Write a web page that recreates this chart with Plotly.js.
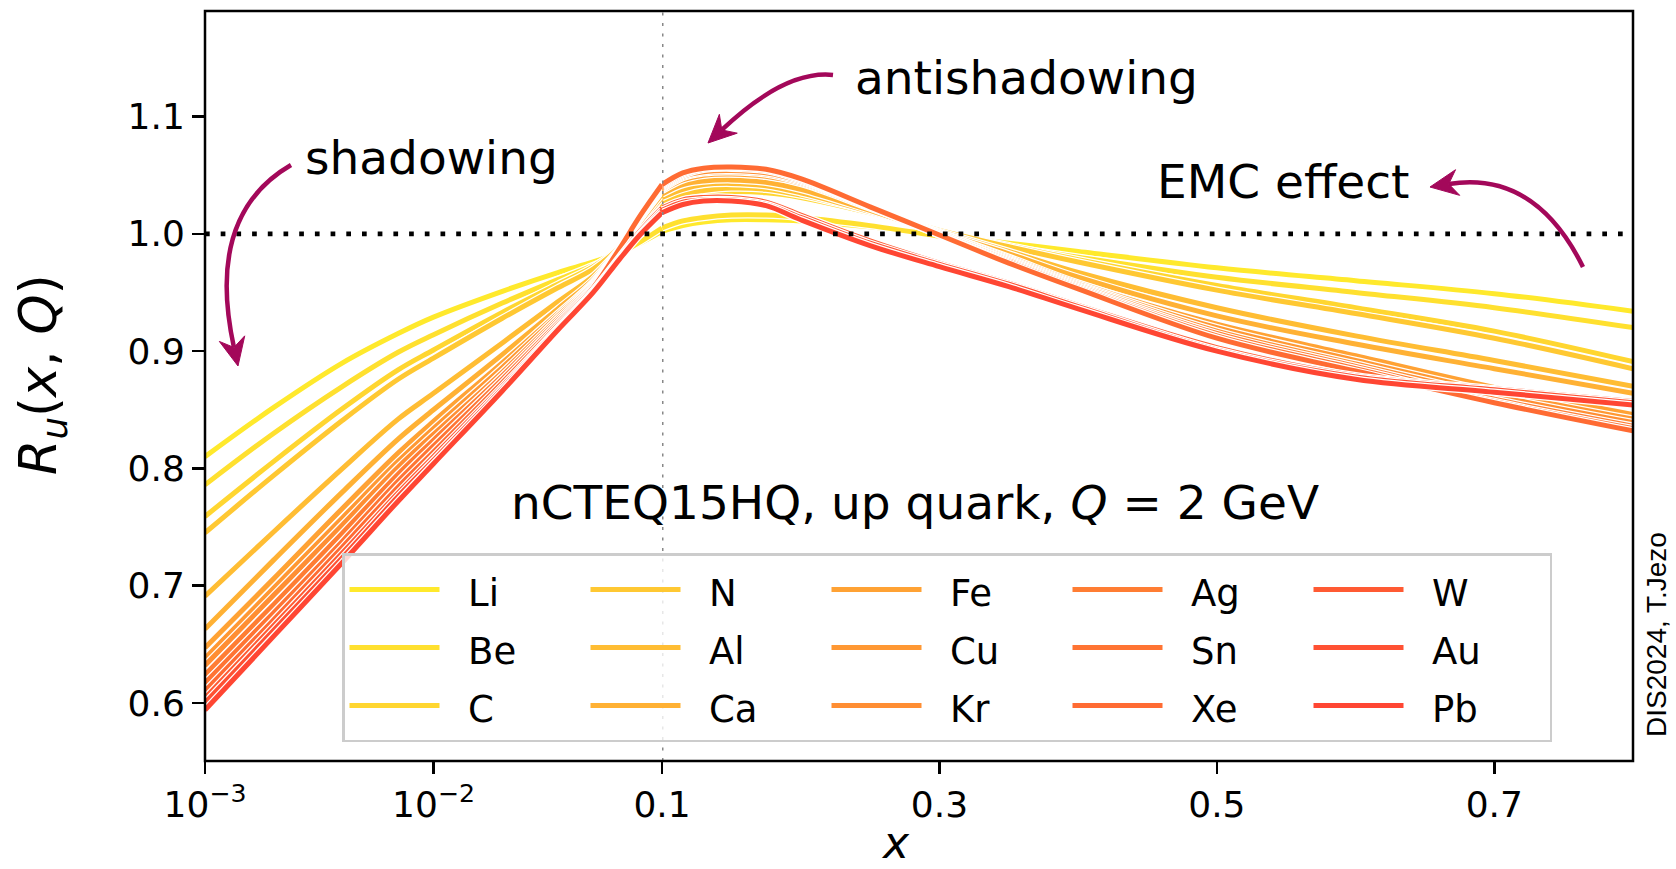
<!DOCTYPE html>
<html><head><meta charset="utf-8">
<script src="https://cdn.plot.ly/plotly-3.0.1.min.js"></script>
<style>html,body{margin:0;padding:0;background:#fff}</style>
</head><body>
<div id="chart" style="width:1676px;height:869px"></div>
<script>
// ---------------- data ----------------
const nuclei = ['Li','Be','C','N','Al','Ca','Fe','Cu','Kr','Ag','Sn','Xe','W','Au','Pb'];
const colors = ['#ffe92c','#ffe02f','#ffd630','#ffc832','#ffbd33','#ffb134','#ffa234','#ff9833','#ff8e33','#ff7d33','#ff7433','#ff6b33','#ff5a33','#ff5133','#ff4633'];

// small-x (log scale) part and large-x (linear scale) part of the x grid
const xLow  = [0.001, 0.002, 0.004, 0.007, 0.01, 0.02, 0.035, 0.05, 0.065, 0.08, 0.1];
const xHigh = [0.1, 0.115, 0.13, 0.15, 0.175, 0.2, 0.25, 0.3, 0.35, 0.4, 0.5, 0.6, 0.7, 0.8];

const Li_lo = [0.810, 0.852, 0.890, 0.915, 0.929, 0.951, 0.967, 0.976, 0.984, 0.992, 1.002];
const Be_lo = [0.786, 0.830, 0.870, 0.899, 0.914, 0.941, 0.961, 0.973, 0.983, 0.993, 1.005];
const C_lo  = [0.759, 0.806, 0.851, 0.884, 0.901, 0.933, 0.957, 0.972, 0.988, 1.005, 1.024];
const N_lo  = [0.745, 0.794, 0.841, 0.876, 0.894, 0.928, 0.954, 0.970, 0.988, 1.007, 1.027];
const Al_lo = [0.691, 0.746, 0.800, 0.842, 0.864, 0.907, 0.942, 0.964, 0.987, 1.009, 1.031];
const Ca_lo = [0.663, 0.722, 0.780, 0.825, 0.850, 0.897, 0.936, 0.961, 0.987, 1.010, 1.034];
const Fe_lo = [0.647, 0.706, 0.766, 0.813, 0.840, 0.890, 0.932, 0.959, 0.987, 1.012, 1.037];
const Cu_lo = [0.638, 0.698, 0.758, 0.806, 0.834, 0.886, 0.930, 0.958, 0.987, 1.013, 1.038];
const Kr_lo = [0.632, 0.692, 0.752, 0.801, 0.829, 0.882, 0.928, 0.957, 0.987, 1.013, 1.039];
const Ag_lo = [0.624, 0.684, 0.745, 0.795, 0.824, 0.879, 0.926, 0.956, 0.987, 1.014, 1.040];
const Sn_lo = [0.617, 0.677, 0.738, 0.789, 0.819, 0.876, 0.924, 0.955, 0.987, 1.015, 1.041];
const Xe_lo = [0.610, 0.671, 0.733, 0.784, 0.814, 0.873, 0.922, 0.954, 0.987, 1.015, 1.042];
const W_lo  = [0.604, 0.666, 0.728, 0.779, 0.810, 0.870, 0.920, 0.952, 0.980, 1.002, 1.022];
const Au_lo = [0.600, 0.662, 0.724, 0.776, 0.807, 0.868, 0.919, 0.951, 0.979, 1.000, 1.020];
const Pb_lo = [0.594, 0.657, 0.720, 0.772, 0.804, 0.866, 0.918, 0.950, 0.978, 0.999, 1.018];

const Li_hi = [1.002, 1.007, 1.010, 1.012, 1.012, 1.011, 1.006, 0.999, 0.992, 0.985, 0.971, 0.960, 0.949, 0.934];
const Be_hi = [1.005, 1.011, 1.014, 1.016, 1.016, 1.014, 1.007, 0.998, 0.989, 0.980, 0.963, 0.950, 0.937, 0.920];
const C_hi  = [1.024, 1.031, 1.034, 1.036, 1.035, 1.031, 1.018, 1.003, 0.990, 0.978, 0.956, 0.937, 0.917, 0.891];
const N_hi  = [1.027, 1.034, 1.037, 1.039, 1.038, 1.033, 1.019, 1.003, 0.989, 0.976, 0.952, 0.932, 0.911, 0.885];
const Al_hi = [1.031, 1.038, 1.042, 1.043, 1.041, 1.035, 1.019, 1.002, 0.985, 0.967, 0.937, 0.913, 0.892, 0.870];
const Ca_hi = [1.034, 1.042, 1.045, 1.046, 1.044, 1.038, 1.020, 1.001, 0.983, 0.963, 0.930, 0.906, 0.885, 0.864];
const Fe_hi = [1.037, 1.046, 1.050, 1.051, 1.049, 1.043, 1.022, 1.001, 0.980, 0.958, 0.923, 0.896, 0.869, 0.846];
const Cu_hi = [1.038, 1.048, 1.052, 1.053, 1.051, 1.044, 1.023, 1.001, 0.979, 0.957, 0.920, 0.892, 0.865, 0.842];
const Kr_hi = [1.039, 1.049, 1.053, 1.054, 1.052, 1.045, 1.023, 1.000, 0.978, 0.956, 0.917, 0.889, 0.862, 0.839];
const Ag_hi = [1.040, 1.050, 1.055, 1.056, 1.054, 1.046, 1.023, 1.000, 0.977, 0.955, 0.915, 0.887, 0.859, 0.836];
const Sn_hi = [1.041, 1.051, 1.056, 1.057, 1.055, 1.047, 1.023, 0.999, 0.976, 0.954, 0.913, 0.885, 0.857, 0.834];
const Xe_hi = [1.042, 1.052, 1.056, 1.057, 1.055, 1.047, 1.023, 0.999, 0.975, 0.953, 0.911, 0.883, 0.856, 0.832];
const W_hi  = [1.022, 1.029, 1.031, 1.031, 1.027, 1.016, 0.994, 0.975, 0.958, 0.939, 0.903, 0.879, 0.868, 0.857];
const Au_hi = [1.020, 1.027, 1.029, 1.029, 1.025, 1.014, 0.992, 0.974, 0.957, 0.938, 0.901, 0.878, 0.867, 0.856];
const Pb_hi = [1.018, 1.025, 1.028, 1.028, 1.024, 1.012, 0.990, 0.972, 0.955, 0.936, 0.900, 0.876, 0.865, 0.854];

const lowSets  = [Li_lo, Be_lo, C_lo, N_lo, Al_lo, Ca_lo, Fe_lo, Cu_lo, Kr_lo, Ag_lo, Sn_lo, Xe_lo, W_lo, Au_lo, Pb_lo];
const highSets = [Li_hi, Be_hi, C_hi, N_hi, Al_hi, Ca_hi, Fe_hi, Cu_hi, Kr_hi, Ag_hi, Sn_hi, Xe_hi, W_hi, Au_hi, Pb_hi];

const yTicks = [0.6, 0.7, 0.8, 0.9, 1.0, 1.1];
const yTickText = ['0.6','0.7','0.8','0.9','1.0','1.1'];
const xLowTicks = [0.001, 0.01];
const xLowTickText = ['10<sup>\u22123</sup>', '10<sup>\u22122</sup>'];
const xHighTicks = [0.1, 0.3, 0.5, 0.7];
const xHighTickText = ['0.1', '0.3', '0.5', '0.7'];

// ---------------- traces ----------------
const traces = [];
nuclei.forEach((name, i) => {
  const col = Math.floor(i / 3), row = i % 3;
  const rank = row * 5 + col + 1;               // legend filled column by column
  const common = {mode: 'lines', hoverinfo: 'skip', legendgroup: name, yaxis: 'y'};
  traces.push(Object.assign({}, common, {x: xLow, y: lowSets[i], xaxis: 'x', showlegend: false,
    line: {color: '#ffffff', width: 7.5, shape: 'spline', smoothing: 1}}));
  traces.push(Object.assign({}, common, {x: xHigh, y: highSets[i], xaxis: 'x2', showlegend: false,
    line: {color: '#ffffff', width: 7.5, shape: 'spline', smoothing: 1}}));
  traces.push(Object.assign({}, common, {x: xLow, y: lowSets[i], xaxis: 'x', showlegend: false, name: name,
    line: {color: colors[i], width: 5, shape: 'spline', smoothing: 1}}));
  traces.push(Object.assign({}, common, {x: xHigh, y: highSets[i], xaxis: 'x2', showlegend: true,
    name: '<span style="font-size:37px">\u00a0\u00a0' + name + '</span>',
    legendrank: rank, line: {color: colors[i], width: 5, shape: 'spline', smoothing: 1}}));
});

// ---------------- geometry helpers for decorations (pixel -> paper) ----------------
const ML = 205, MT = 11, PW = 1428, PH = 750;
function P(X, Y) { return [((X - ML) / PW).toFixed(5), ((MT + PH - Y) / PH).toFixed(5)]; }
const arrowColor = '#a3085a';
function arrowShapes(p0, c, tip) {
  const dx = tip[0] - c[0], dy = tip[1] - c[1];
  const len = Math.hypot(dx, dy), ux = dx / len, uy = dy / len, nx = -uy, ny = ux;
  const Lh = 28, Wh = 13, notch = 9;
  const b = [tip[0] - Lh * ux, tip[1] - Lh * uy];
  const l = [b[0] + Wh * nx, b[1] + Wh * ny], r = [b[0] - Wh * nx, b[1] - Wh * ny];
  const n = [tip[0] - (Lh - notch) * ux, tip[1] - (Lh - notch) * uy];
  const a0 = P(...p0), ac = P(...c), an = P(...n), at = P(...tip), al = P(...l), ar = P(...r);
  return [
    {type: 'path', xref: 'paper', yref: 'paper', layer: 'above',
     path: `M${a0[0]},${a0[1]} Q${ac[0]},${ac[1]} ${an[0]},${an[1]}`,
     line: {color: arrowColor, width: 4.5}},
    {type: 'path', xref: 'paper', yref: 'paper', layer: 'above',
     path: `M${at[0]},${at[1]} L${al[0]},${al[1]} L${an[0]},${an[1]} L${ar[0]},${ar[1]} Z`,
     fillcolor: arrowColor, line: {color: arrowColor, width: 1}}
  ];
}

const shapes = [
  {type: 'line', xref: 'x2', yref: 'paper', x0: 0.1, x1: 0.1, y0: 0, y1: 1, layer: 'above',
   line: {color: '#888888', width: 3, dash: '3px,7.5px'}},
  {type: 'line', xref: 'paper', yref: 'y', x0: 0, x1: 1, y0: 1.0, y1: 1.0, layer: 'above',
   line: {color: '#000000', width: 4.7, dash: '4.7px,11px'}},
  ...arrowShapes([291, 165], [205, 215], [238, 366]),
  ...arrowShapes([833, 75], [785, 70], [708, 143]),
  ...arrowShapes([1583, 267], [1535, 170], [1430, 187]),
  {type: 'rect', xref: 'paper', yref: 'paper', x0: 0, x1: 1, y0: 0, y1: 1, layer: 'above',
   line: {color: '#000000', width: 2.5}}
];

function ann(text, X, Y, size, extra) {
  const p = P(X, Y);
  return Object.assign({text: text, xref: 'paper', yref: 'paper', x: +p[0], y: +p[1],
    showarrow: false, xanchor: 'center', yanchor: 'middle',
    font: {family: 'DejaVu Sans', size: size, color: '#000'}}, extra || {});
}

const annotations = [
  ann('shadowing', 432, 158, 47),
  ann('antishadowing', 1026, 78, 47),
  ann('EMC effect', 1284, 181, 47),
  ann('nCTEQ15HQ, up quark, <i>Q</i> = 2 GeV', 915, 502, 47),
  ann('<i>R</i><sub><i>u</i></sub>(<i>x</i>, <i>Q</i>)', 42, 374, 51, {textangle: -90}),
  ann('<i>x</i>', 896, 842, 44),
  ann('DIS2024, T.Jezo', 1656, 635, 28, {textangle: -90, font: {family: 'Liberation Sans', size: 28, color: '#000'}})
];

const axisCommon = {ticks: 'outside', ticklen: 12, tickwidth: 2.5, tickcolor: '#000',
  showgrid: false, zeroline: false, showline: false,
  tickfont: {family: 'DejaVu Sans', size: 36, color: '#000'}};

const layout = {
  width: 1676, height: 869,
  margin: {l: ML, r: 1676 - ML - PW, t: MT, b: 869 - MT - PH},
  paper_bgcolor: '#ffffff', plot_bgcolor: '#ffffff',
  showlegend: true,
  xaxis: Object.assign({}, axisCommon, {type: 'log', range: [-3, -1], domain: [0, 457 / 1428],
    tickmode: 'array', tickvals: xLowTicks, ticktext: xLowTickText, anchor: 'y'}),
  xaxis2: Object.assign({}, axisCommon, {type: 'linear', range: [0.1, 0.8], domain: [457 / 1428, 1],
    tickmode: 'array', tickvals: xHighTicks, ticktext: xHighTickText, anchor: 'y'}),
  yaxis: Object.assign({}, axisCommon, {range: [0.5505, 1.19], tickmode: 'array',
    tickvals: yTicks, ticktext: yTickText}),
  legend: {orientation: 'h', x: (342 - ML) / PW, y: (MT + PH - 553) / PH, xanchor: 'left', yanchor: 'top',
    bgcolor: 'rgba(255,255,255,0.8)', bordercolor: '#cccccc', borderwidth: 2.5,
    font: {family: 'DejaVu Sans', size: 42.3, color: '#000'}, itemwidth: 90, entrywidth: 136,
    traceorder: 'normal', valign: 'middle'},
  shapes: shapes,
  annotations: annotations
};

Plotly.newPlot('chart', traces, layout, {displayModeBar: false, staticPlot: true});
</script>
</body></html>
